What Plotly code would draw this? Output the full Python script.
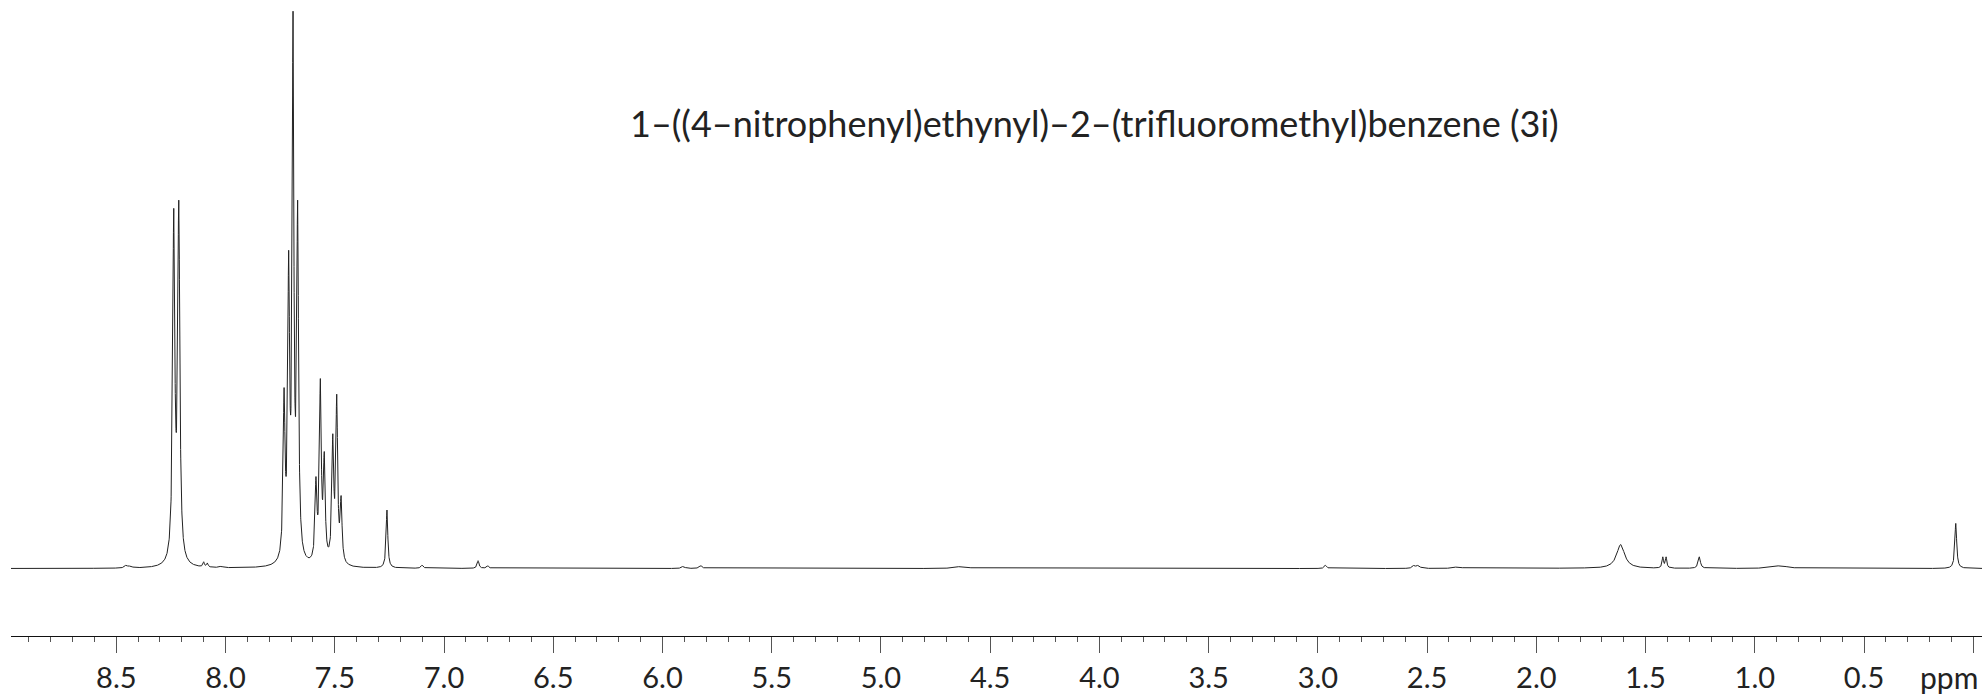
import numpy as np
import plotly.graph_objects as go

# ---- data ----
# peak list: chemical shift (ppm), apparent height (% of tallest), half-width (ppm)
peak_ppm = [8.455, 8.435, 8.262, 8.237, 8.214, 8.100, 8.083, 8.020, 7.760,
            7.732, 7.711, 7.691, 7.670,
            7.586, 7.566, 7.548, 7.509, 7.491, 7.471,
            7.261, 7.100, 6.844, 6.800, 5.905, 5.825, 4.630,
            2.965, 2.560, 2.540, 2.360, 1.840, 1.614, 1.421, 1.406, 1.254, 0.884, 0.080]
peak_height = [0.6, 0.5, 2.0, 64.5, 66.1, 1.2, 1.0, 0.4, 1.5,
               32.2, 57.0, 100.0, 66.1,
               16.5, 34.1, 21.0, 24.2, 31.3, 13.1,
               10.5, 0.6, 1.4, 0.5, 0.4, 0.5, 0.4,
               0.6, 0.6, 0.6, 0.3, 0.2, 4.3, 2.1, 2.1, 2.1, 0.5, 8.1]
peak_hw = [0.008, 0.008, 0.008, 0.0057, 0.0057, 0.004, 0.004, 0.01, 0.03,
           0.005, 0.005, 0.0045, 0.005,
           0.005, 0.005, 0.005, 0.005, 0.005, 0.005,
           0.0045, 0.006, 0.005, 0.006, 0.008, 0.008, 0.03,
           0.006, 0.008, 0.008, 0.02, 0.03, 0.022, 0.004, 0.004, 0.006, 0.04, 0.005]

major_ticks = [8.5, 8.0, 7.5, 7.0, 6.5, 6.0, 5.5, 5.0, 4.5, 4.0, 3.5, 3.0, 2.5, 2.0, 1.5, 1.0, 0.5, 0.0]
major_labels = ["8.5", "8.0", "7.5", "7.0", "6.5", "6.0", "5.5", "5.0", "4.5", "4.0",
                "3.5", "3.0", "2.5", "2.0", "1.5", "1.0", "0.5", ""]
title_text = "1\u2013((4\u2013nitrophenyl)ethynyl)\u20132\u2013(trifluoromethyl)benzene (3i)"
unit_label = "ppm"

# ---- build spectrum trace from the peak list (Lorentzian line shapes) ----
p = np.array(peak_ppm)
h = np.array(peak_height)
w = np.array(peak_hw)

def lor(x, c, g):
    return 1.0 / (1.0 + ((x - c) / g) ** 2)

A = lor(p[:, None], p[None, :], w[None, :])
amp = np.linalg.solve(A, h)
amp = np.clip(amp, 0, None)

x = np.arange(-0.04, 8.99, 0.0005)
y = (amp[None, :] * lor(x[:, None], p[None, :], w[None, :])).sum(axis=1)

fig = go.Figure()
fig.add_trace(go.Scatter(x=x, y=y, mode="lines",
                         line=dict(color="#222222", width=1), hoverinfo="skip",
                         showlegend=False))

fig.update_layout(
    width=1982, height=698,
    margin=dict(l=11, r=0, t=0, b=62),
    paper_bgcolor="white", plot_bgcolor="white",
    font=dict(family="Lato", color="#222222"),
    xaxis=dict(
        range=[8.982, -0.04], showgrid=False, zeroline=False,
        showline=True, linecolor="#111111", linewidth=1.3,
        tickmode="array", tickvals=major_ticks, ticktext=major_labels,
        ticks="outside", ticklen=16, tickwidth=1, tickcolor="#555555",
        tickfont=dict(size=29, family="Lato", color="#222222"),
        minor=dict(tickmode="linear", tick0=0, dtick=0.1, ticks="outside",
                   ticklen=5, tickwidth=1, tickcolor="#555555", showgrid=False),
    ),
    yaxis=dict(range=[-12.12, 102.1], visible=False),
    annotations=[
        dict(text=title_text, xref="paper", yref="paper", x=0.5495, y=0.8066,
             xanchor="center", yanchor="middle", showarrow=False,
             font=dict(size=36, family="Lato", color="#222222")),
        dict(text=unit_label, xref="x", yref="paper", x=0.112, y=-0.064,
             xanchor="center", yanchor="middle", showarrow=False,
             font=dict(size=30, family="Lato", color="#222222")),
    ],
)

fig.write_html("out.html")
